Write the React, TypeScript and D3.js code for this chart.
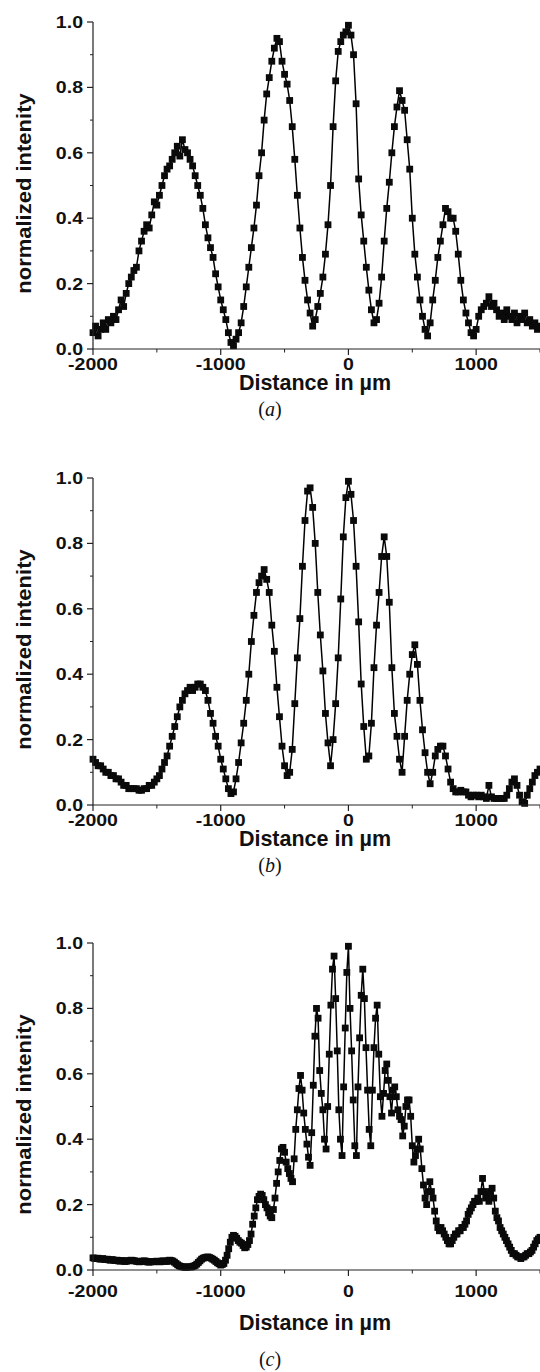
import React from 'react';
import * as d3 from 'd3';

// ---------- data ----------
const X_START = -2000;
const X_END = 1500;
const STEP_A = 20; // µm between samples, panel (a)
const STEP_B = 20; // panel (b)
const STEP_C = 12.5; // panel (c)

const xTicksMajor = [-2000, -1000, 0, 1000];
const xTicksMinor = [-1500, -500, 500, 1500];
const yTicksMajor = [0, 0.2, 0.4, 0.6, 0.8, 1.0];
const yTicksMinor = [0.1, 0.3, 0.5, 0.7, 0.9];
const panelLetters = ['a', 'b', 'c'];
const xTitle = 'Distance in µm';
const yTitle = 'normalized intenity';

// one row = 200 µm (10 samples)
const intensityA = [
  0.05, 0.07, 0.04, 0.06, 0.08, 0.06, 0.09, 0.08, 0.10, 0.09, // -2000
  0.12, 0.15, 0.13, 0.17, 0.20, 0.22, 0.24, 0.25, 0.30, 0.33, // -1800
  0.36, 0.38, 0.37, 0.41, 0.45, 0.44, 0.47, 0.50, 0.53, 0.55, // -1600
  0.56, 0.58, 0.60, 0.62, 0.59, 0.64, 0.61, 0.60, 0.58, 0.56, // -1400
  0.53, 0.50, 0.47, 0.43, 0.38, 0.34, 0.31, 0.28, 0.23, 0.19, // -1200
  0.15, 0.12, 0.09, 0.05, 0.02, 0.01, 0.03, 0.05, 0.08, 0.13, // -1000
  0.19, 0.25, 0.31, 0.37, 0.44, 0.53, 0.60, 0.70, 0.78, 0.83, // -800
  0.88, 0.92, 0.95, 0.94, 0.88, 0.84, 0.81, 0.76, 0.68, 0.58, // -600
  0.47, 0.37, 0.28, 0.21, 0.15, 0.11, 0.07, 0.09, 0.13, 0.17, // -400
  0.22, 0.29, 0.38, 0.50, 0.68, 0.82, 0.91, 0.94, 0.96, 0.97, // -200
  0.99, 0.96, 0.90, 0.75, 0.52, 0.41, 0.33, 0.25, 0.18, 0.12, // 0
  0.08, 0.09, 0.14, 0.22, 0.33, 0.43, 0.51, 0.60, 0.68, 0.74, // 200
  0.79, 0.76, 0.73, 0.64, 0.55, 0.40, 0.29, 0.22, 0.15, 0.10, // 400
  0.06, 0.04, 0.08, 0.15, 0.21, 0.28, 0.33, 0.38, 0.43, 0.42, // 600
  0.40, 0.40, 0.36, 0.29, 0.21, 0.15, 0.11, 0.08, 0.05, 0.04, // 800
  0.06, 0.10, 0.12, 0.13, 0.14, 0.16, 0.13, 0.14, 0.12, 0.10, // 1000
  0.11, 0.09, 0.12, 0.10, 0.09, 0.11, 0.08, 0.10, 0.09, 0.11, // 1200
  0.08, 0.09, 0.07, 0.08, 0.06, 0.07, // 1400 .. 1500
];

const intensityB = [
  0.14, 0.13, 0.12, 0.12, 0.11, 0.10, 0.10, 0.09, 0.09, 0.08, // -2000
  0.08, 0.07, 0.06, 0.06, 0.05, 0.05, 0.05, 0.05, 0.045, 0.045, // -1800
  0.05, 0.05, 0.06, 0.06, 0.07, 0.08, 0.09, 0.11, 0.13, 0.15, // -1600
  0.18, 0.21, 0.24, 0.27, 0.30, 0.32, 0.34, 0.35, 0.36, 0.35, // -1400
  0.36, 0.37, 0.37, 0.36, 0.35, 0.32, 0.28, 0.25, 0.21, 0.18, // -1200
  0.14, 0.11, 0.08, 0.05, 0.035, 0.04, 0.08, 0.13, 0.19, 0.25, // -1000
  0.32, 0.40, 0.50, 0.58, 0.65, 0.68, 0.70, 0.72, 0.69, 0.65, // -800
  0.55, 0.47, 0.36, 0.27, 0.18, 0.12, 0.09, 0.10, 0.17, 0.31, // -600
  0.45, 0.57, 0.73, 0.87, 0.96, 0.97, 0.91, 0.80, 0.65, 0.52, // -400
  0.41, 0.28, 0.19, 0.12, 0.20, 0.31, 0.45, 0.63, 0.82, 0.94, // -200
  0.99, 0.95, 0.87, 0.73, 0.56, 0.37, 0.24, 0.14, 0.15, 0.25, // 0
  0.42, 0.55, 0.65, 0.76, 0.82, 0.76, 0.62, 0.42, 0.28, 0.21, // 200
  0.14, 0.10, 0.21, 0.32, 0.40, 0.46, 0.49, 0.43, 0.32, 0.23, // 400
  0.16, 0.10, 0.065, 0.10, 0.15, 0.17, 0.18, 0.18, 0.15, 0.11, // 600
  0.07, 0.05, 0.04, 0.04, 0.045, 0.04, 0.04, 0.03, 0.025, 0.03, // 800
  0.03, 0.025, 0.03, 0.025, 0.02, 0.06, 0.025, 0.02, 0.02, 0.02, // 1000
  0.02, 0.02, 0.03, 0.05, 0.07, 0.08, 0.06, 0.03, 0.01, 0.005, // 1200
  0.03, 0.05, 0.07, 0.09, 0.10, 0.11, // 1400 .. 1500
];

// one row = 100 µm (8 samples)
const intensityC = [
  0.037, 0.036, 0.035, 0.036, 0.034, 0.033, 0.035, 0.033, // -2000
  0.032, 0.033, 0.031, 0.030, 0.032, 0.030, 0.029, 0.030, // -1900
  0.028, 0.027, 0.029, 0.028, 0.026, 0.027, 0.028, 0.029, // -1800
  0.030, 0.029, 0.028, 0.027, 0.026, 0.025, 0.026, 0.027, // -1700
  0.028, 0.027, 0.025, 0.024, 0.025, 0.026, 0.025, 0.026, // -1600
  0.027, 0.026, 0.025, 0.027, 0.028, 0.027, 0.026, 0.028, // -1500
  0.030, 0.029, 0.027, 0.024, 0.020, 0.016, 0.013, 0.011, // -1400
  0.010, 0.009, 0.008, 0.009, 0.010, 0.009, 0.010, 0.012, // -1300
  0.014, 0.018, 0.023, 0.028, 0.033, 0.036, 0.038, 0.039, // -1200
  0.040, 0.038, 0.036, 0.033, 0.030, 0.026, 0.022, 0.019, // -1100
  0.015, 0.017, 0.020, 0.030, 0.045, 0.065, 0.085, 0.100, // -1000
  0.106, 0.103, 0.097, 0.090, 0.085, 0.082, 0.075, 0.068, // -900
  0.070, 0.078, 0.090, 0.110, 0.140, 0.165, 0.190, 0.215, // -800
  0.225, 0.232, 0.228, 0.215, 0.200, 0.190, 0.175, 0.165, // -700
  0.160, 0.185, 0.220, 0.265, 0.300, 0.335, 0.370, 0.375, // -600
  0.360, 0.330, 0.310, 0.295, 0.280, 0.270, 0.340, 0.430, // -500
  0.490, 0.555, 0.595, 0.550, 0.480, 0.430, 0.385, 0.345, // -400
  0.320, 0.420, 0.565, 0.715, 0.800, 0.770, 0.610, 0.540, // -300
  0.490, 0.400, 0.370, 0.500, 0.660, 0.810, 0.920, 0.960, // -200
  0.830, 0.670, 0.490, 0.400, 0.350, 0.560, 0.740, 0.910, // -100
  0.990, 0.800, 0.670, 0.520, 0.380, 0.350, 0.560, 0.710, // 0
  0.840, 0.920, 0.830, 0.680, 0.550, 0.430, 0.380, 0.550, // 100
  0.680, 0.770, 0.810, 0.660, 0.530, 0.470, 0.540, 0.610, // 200
  0.630, 0.580, 0.530, 0.480, 0.550, 0.560, 0.530, 0.490, // 300
  0.470, 0.460, 0.410, 0.440, 0.500, 0.520, 0.520, 0.470, // 400
  0.380, 0.330, 0.350, 0.370, 0.400, 0.370, 0.310, 0.260, // 500
  0.220, 0.200, 0.240, 0.270, 0.240, 0.220, 0.180, 0.150, // 600
  0.130, 0.120, 0.130, 0.120, 0.110, 0.100, 0.090, 0.080, // 700
  0.080, 0.090, 0.100, 0.110, 0.110, 0.120, 0.120, 0.130, // 800
  0.130, 0.140, 0.150, 0.170, 0.180, 0.190, 0.200, 0.210, // 900
  0.210, 0.220, 0.210, 0.240, 0.280, 0.240, 0.220, 0.230, // 1000
  0.210, 0.240, 0.250, 0.220, 0.180, 0.160, 0.150, 0.130, // 1100
  0.120, 0.110, 0.100, 0.090, 0.080, 0.070, 0.060, 0.050, // 1200
  0.050, 0.045, 0.040, 0.040, 0.035, 0.040, 0.040, 0.045, // 1300
  0.050, 0.050, 0.055, 0.060, 0.070, 0.080, 0.090, 0.095, // 1400
  0.100, // 1500
];

const seriesList = [intensityA, intensityB, intensityC];
const stepList = [STEP_A, STEP_B, STEP_C];

// ---------- layout ----------
const W = 540;
const H = 1372;
const LEFT = 93;
const RIGHT = 540;
const layouts = [
  { top: 22, bottom: 349, tick: 21, title: 41, caption: 67 },
  { top: 478, bottom: 805, tick: 21, title: 41, caption: 67 },
  { top: 943, bottom: 1270, tick: 27, title: 60, caption: 96 },
];

const SANS = '"Liberation Sans", Arial, Helvetica, sans-serif';
const SERIF = '"Liberation Serif", "Times New Roman", serif';
const AXIS_COLOR = '#222';

function Panel({ data, step, lay, letter }: any) {
  const x = d3.scaleLinear().domain([X_START, X_END]).range([LEFT, RIGHT]);
  const y = d3.scaleLinear().domain([0, 1]).range([lay.bottom, lay.top]);
  const pts = data.map((v: number, i: number) => [X_START + i * step, v]);
  const line = d3
    .line<number[]>()
    .x((d) => x(d[0]))
    .y((d) => y(d[1]));
  const ms = 6.8;
  const yMid = (lay.top + lay.bottom) / 2 + 8;
  return (
    <g>
      <path d={line(pts) || ''} fill="none" stroke="#000" strokeWidth={1.5} />
      {pts.map((d: number[], i: number) => (
        <rect
          key={i}
          x={x(d[0]) - ms / 2}
          y={y(d[1]) - ms / 2}
          width={ms}
          height={ms}
          fill="#0a0a0a"
        />
      ))}
      {/* axes */}
      <path
        d={`M${LEFT},${lay.top}V${lay.bottom}H${RIGHT}`}
        fill="none"
        stroke={AXIS_COLOR}
        strokeWidth={1.2}
      />
      {yTicksMajor.map((t) => (
        <g key={'ym' + t}>
          <line x1={LEFT - 6} x2={LEFT} y1={y(t)} y2={y(t)} stroke={AXIS_COLOR} strokeWidth={1.2} />
          <text
            transform={`translate(${LEFT - 10},${y(t) + 6}) scale(1.15,1)`}
            textAnchor="end"
            fontFamily={SANS}
            fontWeight="bold"
            fontSize={17}
            fill="#111"
          >
            {t.toFixed(1)}
          </text>
        </g>
      ))}
      {yTicksMinor.map((t) => (
        <line key={'yn' + t} x1={LEFT - 3} x2={LEFT} y1={y(t)} y2={y(t)} stroke={AXIS_COLOR} strokeWidth={1} />
      ))}
      {xTicksMajor.map((t) => (
        <g key={'xm' + t}>
          <line x1={x(t)} x2={x(t)} y1={lay.bottom} y2={lay.bottom + 6} stroke={AXIS_COLOR} strokeWidth={1.2} />
          <text
            transform={`translate(${x(t)},${lay.bottom + lay.tick}) scale(1.15,1)`}
            textAnchor="middle"
            fontFamily={SANS}
            fontWeight="bold"
            fontSize={17}
            fill="#111"
          >
            {t}
          </text>
        </g>
      ))}
      {xTicksMinor.map((t) => (
        <line key={'xn' + t} x1={x(t)} x2={x(t)} y1={lay.bottom} y2={lay.bottom + 3.5} stroke={AXIS_COLOR} strokeWidth={1} />
      ))}
      <text
        x={315}
        y={lay.bottom + lay.title}
        textAnchor="middle"
        fontFamily={SANS}
        fontWeight="bold"
        fontSize={21.5}
        fill="#111"
      >
        {xTitle}
      </text>
      <text
        transform={`translate(31,${yMid}) rotate(-90) scale(1.1,1)`}
        textAnchor="middle"
        fontFamily={SANS}
        fontWeight="bold"
        fontSize={20}
        fill="#111"
      >
        {yTitle}
      </text>
      <text
        x={270}
        y={lay.bottom + lay.caption}
        textAnchor="middle"
        fontFamily={SERIF}
        fontSize={20}
        fill="#111"
      >
        (<tspan fontStyle="italic">{letter}</tspan>)
      </text>
    </g>
  );
}

export default function App() {
  return (
    <svg
      width={W}
      height={H}
      viewBox={`0 0 ${W} ${H}`}
      style={{ position: 'absolute', left: 0, top: 0, background: '#fff' }}
    >
      <rect width={W} height={H} fill="#fff" />
      {layouts.map((lay, i) => (
        <Panel key={i} data={seriesList[i]} step={stepList[i]} lay={lay} letter={panelLetters[i]} />
      ))}
    </svg>
  );
}
